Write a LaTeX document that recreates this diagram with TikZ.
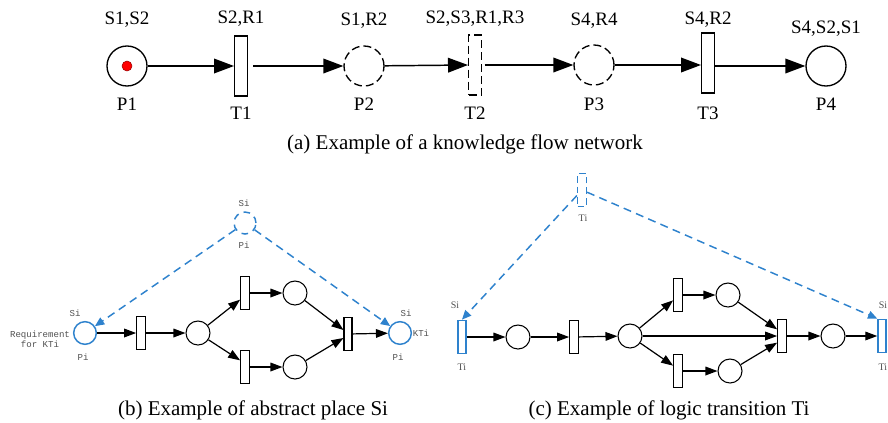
\documentclass[tikz,border=0pt]{standalone}
\usepackage{fontspec}
\setmainfont{Liberation Serif}
\setmonofont{Liberation Mono}
\usetikzlibrary{arrows.meta}
\definecolor{pblue}{RGB}{46,130,205}
\definecolor{lgray}{RGB}{80,80,80}
\tikzset{
  bigplace/.style={circle,draw,line width=1pt,minimum size=30pt,inner sep=0pt},
  bigtrans/.style={rectangle,draw,line width=1pt,minimum width=9.5pt,minimum height=45pt,inner sep=0pt},
  bigarrow/.style={line width=1.1pt,-{Triangle[length=15pt,width=11pt]}},
  lab/.style={font=\rmfamily\fontsize{14.25}{16}\selectfont,inner sep=0pt},
  caption/.style={font=\rmfamily\fontsize{15.75}{18}\selectfont,inner sep=0pt},
  smplace/.style={circle,draw,line width=0.8pt,minimum size=18pt,inner sep=0pt},
  smtrans/.style={rectangle,draw,line width=0.8pt,minimum width=6.5pt,minimum height=24.5pt,inner sep=0pt},
  smarrow/.style={line width=0.9pt,-{Triangle[length=9pt,width=6.5pt]}},
  bluearrow/.style={pblue,line width=1.1pt,dash pattern=on 6pt off 4pt,-{Triangle[length=7pt,width=6pt]}},
  tinymono/.style={font=\ttfamily\fontsize{6.8}{7.6}\selectfont,text=lgray,inner sep=0pt,align=center},
  tinyserif/.style={font=\rmfamily\fontsize{7.5}{8}\selectfont,text=lgray,inner sep=0pt},
}
\begin{document}
\begin{tikzpicture}[x=0.75pt,y=-0.75pt]
\useasboundingbox (0,0) rectangle (888,422);
\clip (0,0) rectangle (888,422);
% ---------- panel (a) ----------
\node[bigplace] (P1) at (127,66) {};
\node[circle,fill=red,draw=red!60!black,line width=0.4pt,minimum size=7.5pt,inner sep=0pt] (tok) at (127,66) {};
\node[bigtrans] (T1) at (241,66) {};
\node[bigplace,dash pattern=on 6pt off 3pt] (P2) at (364,66) {};
\node[bigtrans,dash pattern=on 6pt off 3pt] (T2) at (475,65) {};
\node[bigplace,dash pattern=on 6pt off 3pt] (P3) at (594,65) {};
\node[bigtrans] (T3) at (708,63) {};
\node[bigplace] (P4) at (826,66) {};
\draw[bigarrow] (P1) -- (T1);
\draw[bigarrow] ([xshift=4pt]T1.east) -- (P2);
\draw[bigarrow] (P2) -- (T2.west);
\draw[bigarrow] ([xshift=2pt]T2.east) -- (P3);
\draw[bigarrow] (P3.east) -- (T3.west |- P3.east);
\draw[bigarrow] (T3.east |- P4.west) -- (P4.west);
\node[lab] (lP1a) at (127,20) {S1,S2};
\node[lab] (lP1b) at (127,104) {P1};
\node[lab] (lT1a) at (241,19) {S2,R1};
\node[lab] (lT1b) at (241,113) {T1};
\node[lab] (lP2a) at (364,21) {S1,R2};
\node[lab] (lP2b) at (364,104) {P2};
\node[lab] (lT2a) at (475,19) {S2,S3,R1,R3};
\node[lab] (lT2b) at (475,113) {T2};
\node[lab] (lP3a) at (594,21) {S4,R4};
\node[lab] (lP3b) at (594,104) {P3};
\node[lab] (lT3a) at (708,20) {S4,R2};
\node[lab] (lT3b) at (708,113) {T3};
\node[lab] (lP4a) at (826,29) {S4,S2,S1};
\node[lab] (lP4b) at (826,104) {P4};
\node[caption] (capa) at (465,144) {(a) Example of a knowledge flow network};
% ---------- panel (b) ----------
\node[smplace,draw=pblue,line width=1.1pt,dash pattern=on 5pt off 4pt,minimum size=16.5pt] (Sb) at (245,223) {};
\node[smplace,draw=pblue,line width=1.1pt,minimum size=17pt] (Lp) at (85,333) {};
\node[smtrans] (Ta) at (141,333) {};
\node[smplace] (Pa) at (198,333) {};
\node[smtrans] (Tb) at (245,293) {};
\node[smtrans] (Tc) at (245,367) {};
\node[smplace] (Pb) at (295,293) {};
\node[smplace] (Pc) at (295,367) {};
\node[smtrans,minimum width=6pt] (Td) at (348,334) {};
\node[smplace,draw=pblue,line width=1.1pt,minimum size=17pt] (Rp) at (400,333) {};
\draw[smarrow] (Lp) -- (Ta);
\draw[smarrow] (Ta) -- (Pa);
\draw[smarrow] (Pa) -- ([yshift=-5pt]Tb.west);
\draw[smarrow] (Pa) -- ([yshift=5pt]Tc.west);
\draw[smarrow] (Tb) -- (Pb);
\draw[smarrow] (Tc) -- (Pc);
\draw[smarrow] (Pb) -- ([yshift=3pt]Td.west);
\draw[smarrow] (Pc) -- ([yshift=-3pt]Td.west);
\draw[smarrow] (Td) -- (Rp);
\draw[bluearrow] (Sb) -- (Lp);
\draw[bluearrow] (Sb) -- (Rp);
\node[tinymono] (lSb1) at (244,203) {Si};
\node[tinymono] (lSb2) at (244,245) {Pi};
\node[tinymono] (lLp1) at (75,313) {Si};
\node[tinymono] (lLp2) at (83,357) {Pi};
\node[tinymono] (lLp3) at (40,339) {Requirement\\for KTi};
\node[tinymono] (lRp1) at (406,313) {Si};
\node[tinymono] (lRp2) at (421,333) {KTi};
\node[tinymono] (lRp3) at (398,357) {Pi};
\node[caption] (capb) at (253,410) {(b) Example of abstract place Si};
% ---------- panel (c) ----------
\node[smtrans,draw=pblue,line width=1.1pt,dash pattern=on 5pt off 3pt,minimum width=6.5pt,minimum height=25pt] (Tt) at (582,190) {};
\node[smtrans,draw=pblue,line width=1.1pt,minimum width=6pt,minimum height=25pt] (Lt) at (462,337) {};
\node[smplace] (Q1) at (518,337) {};
\node[smtrans] (U1) at (574,337) {};
\node[smplace] (Q2) at (630,336) {};
\node[smtrans] (Uu) at (678,295) {};
\node[smtrans] (Ul) at (678,371) {};
\node[smplace] (Qu) at (728,295) {};
\node[smplace] (Ql) at (730,371) {};
\node[smtrans] (Ur) at (782,336) {};
\node[smplace] (Q5) at (833,336) {};
\node[smtrans,draw=pblue,line width=1.1pt,minimum width=6pt,minimum height=25pt] (Rt) at (882,336) {};
\draw[smarrow] (Lt) -- (Q1);
\draw[smarrow] (Q1) -- (U1);
\draw[smarrow] (U1) -- (Q2);
\draw[smarrow] (Q2) -- ([yshift=-4pt]Uu.west);
\draw[smarrow] (Q2) -- ([yshift=4pt]Ul.west);
\draw[smarrow] (Q2) -- (Ur);
\draw[smarrow] (Uu) -- (Qu);
\draw[smarrow] (Ul) -- (Ql);
\draw[smarrow] (Qu) -- ([yshift=5pt]Ur.west);
\draw[smarrow] (Ql) -- ([yshift=-5pt]Ur.west);
\draw[smarrow] (Ur) -- (Q5);
\draw[smarrow] (Q5) -- (Rt);
\draw[bluearrow] (Tt) -- (Lt.north);
\draw[bluearrow] (Tt) -- (Rt.north west);
\node[tinyserif] (lTt) at (583,218) {Ti};
\node[tinyserif] (lLt1) at (455,305) {Si};
\node[tinyserif] (lLt2) at (462,367) {Ti};
\node[tinyserif,anchor=east] (lRt1) at (887.5,305) {Si};
\node[tinyserif,anchor=east] (lRt2) at (887.5,367) {Ti};
\node[caption] (capc) at (669,410) {(c) Example of logic transition Ti};
\end{tikzpicture}
\end{document}
